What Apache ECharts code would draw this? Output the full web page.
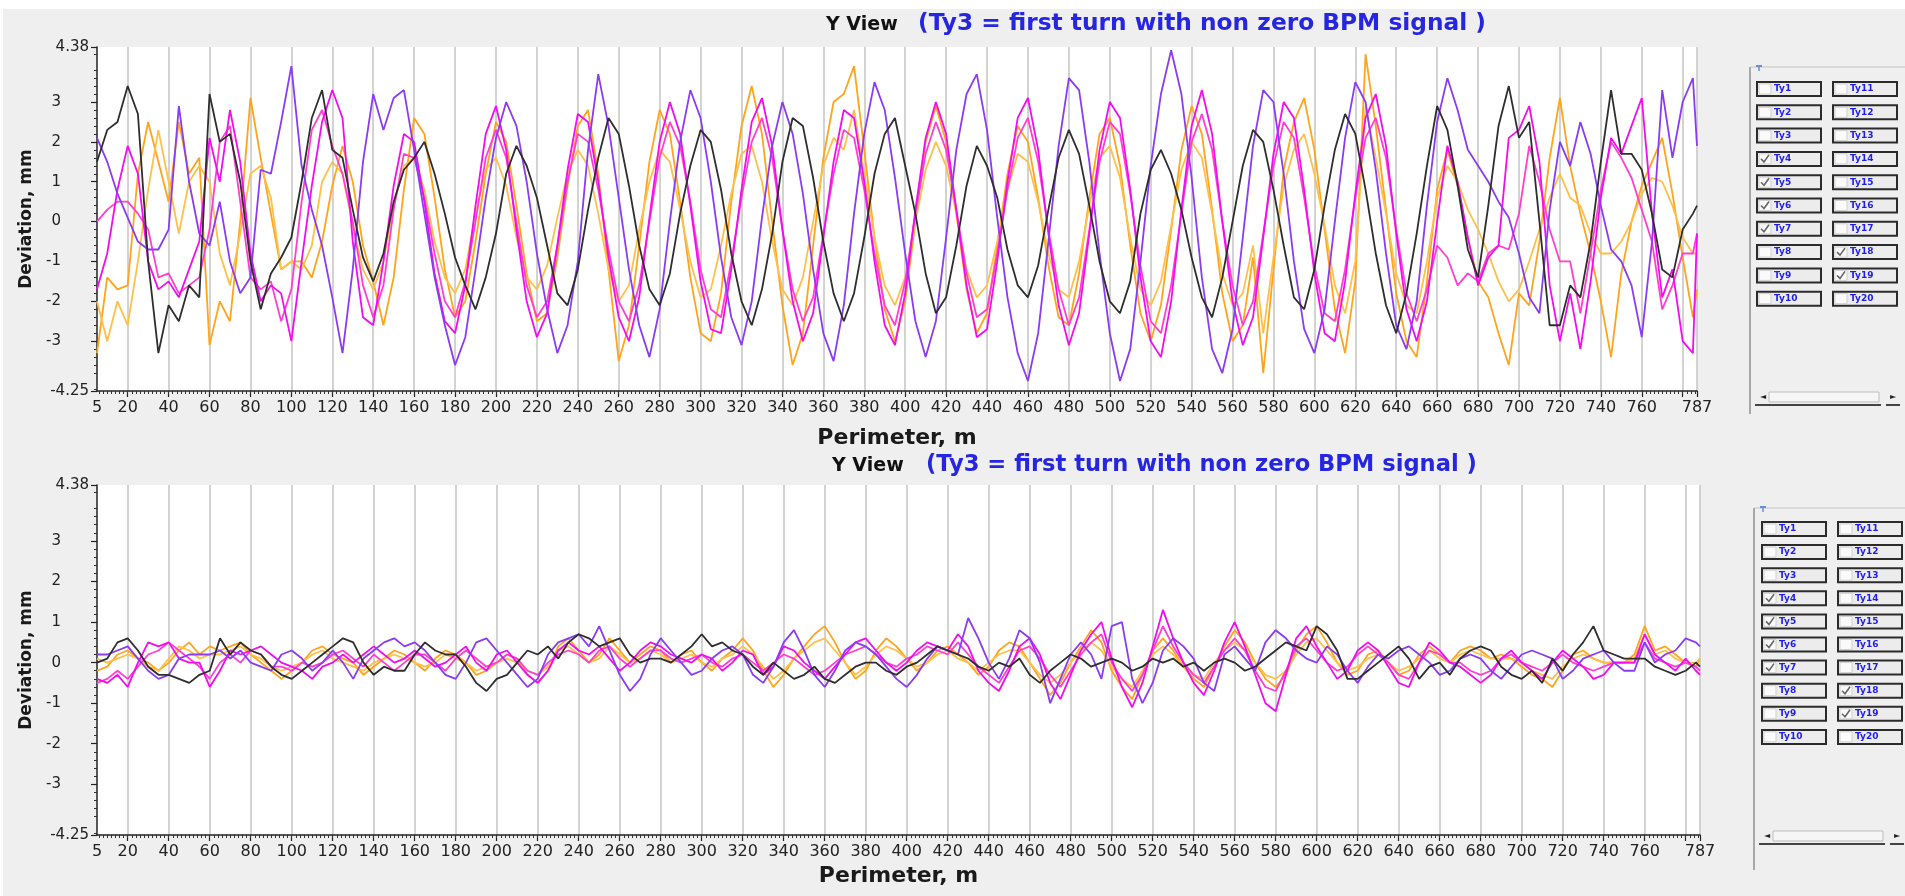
<!DOCTYPE html>
<html><head><meta charset="utf-8">
<script src="https://cdn.jsdelivr.net/npm/echarts@6/dist/echarts.min.js"></script>
<style>html,body{margin:0;padding:0;background:#efefef;overflow:hidden}#c{width:1905px;height:896px}</style>
</head><body><div id="c"></div><script>
// BPM positions along the ring, m
const positions = [
5,10,15,20,25,30,35,40,45,50,55,60,65,70,75,80,85,90,95,100,
105,110,115,120,125,130,135,140,145,150,155,160,165,170,175,180,185,190,195,200,
205,210,215,220,225,230,235,240,245,250,255,260,265,270,275,280,285,290,295,300,
305,310,315,320,325,330,335,340,345,350,355,360,365,370,375,380,385,390,395,400,
405,410,415,420,425,430,435,440,445,450,455,460,465,470,475,480,485,490,495,500,
505,510,515,520,525,530,535,540,545,550,555,560,565,570,575,580,585,590,595,600,
605,610,615,620,625,630,635,640,645,650,655,660,665,670,675,680,685,690,695,700,
705,710,715,720,725,730,735,740,745,750,755,760,765,770,775,780,785,787];

// ---- upper panel (mm)
const topTy4 = [
1.5,2.3,2.5,3.4,2.7,-1.0,-3.3,-2.1,-2.5,-1.6,-1.9,3.2,2.0,2.2,1.0,-1.0,-2.2,-1.3,-0.9,-0.4,
1.0,2.6,3.3,1.8,1.6,0.3,-0.9,-1.5,-0.8,0.5,1.3,1.6,2.0,1.2,0.2,-0.9,-1.6,-2.2,-1.4,-0.3,
1.2,1.9,1.4,0.6,-0.6,-1.8,-2.1,-1.2,0.3,1.6,2.6,2.2,0.9,-0.6,-1.7,-2.1,-1.3,0.2,1.4,2.3,
2.0,0.8,-0.8,-2.0,-2.6,-1.7,-0.3,1.5,2.6,2.4,1.1,-0.5,-1.8,-2.5,-1.8,-0.4,1.2,2.2,2.6,1.4,
0.2,-1.3,-2.3,-1.9,-0.6,0.9,1.9,1.4,0.6,-0.7,-1.6,-1.9,-1.1,0.3,1.6,2.3,1.7,0.4,-1.0,-2.0,
-2.3,-1.5,0.2,1.3,1.8,1.2,0.3,-0.9,-1.9,-2.4,-1.4,0.0,1.4,2.3,2.0,0.8,-0.6,-1.9,-2.2,-1.2,
0.4,1.8,2.7,2.2,0.8,-0.8,-2.1,-2.8,-1.8,-0.3,1.4,2.9,2.3,0.9,-0.7,-1.4,0.4,2.4,3.4,2.1,
2.5,0.0,-2.6,-2.6,-1.6,-1.9,-0.5,1.5,3.3,1.7,1.7,1.3,0.2,-1.2,-1.4,-0.2,0.2,0.4];
const topTy5 = [
2.1,1.5,0.7,0.1,-0.5,-0.7,-0.7,-0.2,2.9,1.0,-0.3,-0.6,0.5,-1.0,-1.8,-1.4,1.3,1.2,2.5,3.9,
1.4,0.3,-0.6,-1.9,-3.3,-1.2,1.5,3.2,2.3,3.1,3.3,1.8,0.2,-1.4,-2.6,-3.6,-2.9,-1.2,0.6,2.1,
3.0,2.4,1.0,-0.8,-2.2,-3.3,-2.6,-1.0,1.8,3.7,2.4,0.6,-1.2,-2.6,-3.4,-2.2,0.0,2.0,3.3,2.6,
1.0,-0.9,-2.4,-3.1,-2.0,0.1,1.9,3.0,2.2,0.7,-1.2,-2.8,-3.5,-2.1,0.2,2.2,3.5,2.8,1.1,-0.8,
-2.5,-3.4,-2.5,-0.4,1.8,3.2,3.7,2.3,0.1,-1.9,-3.3,-4.0,-2.8,-0.5,1.9,3.6,3.3,1.5,-0.8,-2.8,
-4.0,-3.2,-1.0,1.4,3.2,4.3,3.2,1.1,-1.4,-3.2,-3.8,-2.7,-0.4,1.9,3.3,3.0,1.2,-1.0,-2.7,-3.3,
-2.2,0.0,2.1,3.5,3.0,1.3,-0.8,-2.6,-3.2,-2.0,0.4,2.5,3.6,2.8,1.8,1.4,1.0,0.5,0.1,-0.8,
-1.9,-2.3,0.3,2.0,1.4,2.5,1.7,0.4,-0.7,-1.0,-1.6,-2.9,-0.5,3.3,1.6,3.0,3.6,1.9];
const topTy6 = [
-1.7,-0.8,0.8,1.9,1.2,-1.0,-1.7,-1.5,-1.9,-1.2,-0.5,2.1,1.0,2.8,1.5,-0.8,-2.0,-1.6,-1.8,-3.0,
-1.0,0.9,2.5,3.3,2.6,-0.5,-2.4,-2.6,-1.0,0.9,2.2,2.0,0.5,-1.3,-2.5,-2.8,-1.6,0.4,2.2,2.9,
1.8,-0.2,-2.0,-2.9,-2.3,-0.6,1.3,2.7,2.5,1.0,-0.9,-2.4,-3.0,-1.9,0.1,2.0,3.0,2.2,0.4,-1.5,
-2.7,-2.8,-1.2,0.8,2.5,3.1,1.9,-0.2,-2.0,-3.0,-2.3,-0.4,1.5,2.8,2.6,1.0,-1.0,-2.6,-3.1,-1.8,
0.3,2.1,3.0,2.2,0.3,-1.6,-2.9,-2.7,-1.0,1.0,2.6,3.1,1.8,-0.3,-2.1,-3.1,-2.3,-0.3,1.8,3.0,
2.6,0.8,-1.4,-3.0,-3.4,-2.0,0.3,2.4,3.3,2.2,0.0,-2.0,-3.1,-2.4,-0.4,1.7,3.0,2.6,0.8,-1.3,
-2.8,-3.0,-1.5,0.7,2.6,3.2,1.9,-0.3,-2.2,-3.0,-2.0,0.0,1.9,1.0,-0.4,-1.6,-0.9,-0.6,2.1,2.3,
2.9,1.5,-1.6,-3.0,-1.8,-3.2,-1.5,0.6,2.1,1.7,2.4,3.1,0.2,-1.9,-1.2,-3.0,-3.3,-0.3];
const topTy7 = [
0.0,0.3,0.5,0.5,0.2,-0.2,-1.4,-1.3,-1.8,-1.6,-1.4,-0.2,2.0,2.4,0.5,-1.4,-1.7,-1.5,-2.5,-1.7,
0.5,2.3,2.8,1.9,1.2,0.0,-1.6,-2.4,-1.6,0.3,1.7,1.6,0.6,-0.8,-2.0,-2.4,-1.5,0.0,1.6,2.3,
1.6,0.0,-1.6,-2.4,-2.0,-0.6,1.0,2.2,2.0,0.8,-0.7,-2.0,-2.5,-1.6,0.0,1.6,2.5,1.9,0.5,-1.2,
-2.2,-2.4,-1.0,0.6,2.0,2.6,1.6,-0.2,-1.7,-2.5,-1.9,-0.3,1.2,2.3,2.1,0.8,-0.8,-2.1,-2.6,-1.5,
0.2,1.7,2.5,1.8,0.3,-1.3,-2.4,-2.2,-0.8,0.8,2.1,2.6,1.5,-0.2,-1.7,-2.6,-1.9,-0.2,1.5,2.5,
2.2,0.7,-1.1,-2.5,-2.8,-1.6,0.2,2.0,2.7,1.8,0.0,-1.6,-2.6,-2.0,-0.3,1.4,2.5,2.1,0.6,-1.1,
-2.3,-2.5,-1.2,0.6,2.1,2.6,1.6,-0.2,-1.8,-2.5,-1.7,-0.6,-0.9,-1.6,-1.3,-1.5,-0.8,-0.6,-0.7,0.2,
1.9,1.0,-0.2,-1.0,-1.0,-2.3,-0.8,0.8,2.0,1.6,1.1,0.3,-0.5,-2.2,-1.6,-0.8,-0.8,-0.3];
const topTy18 = [
-3.3,-1.4,-1.7,-1.6,1.2,2.5,1.5,0.5,2.5,1.2,1.6,-3.1,-2.0,-2.5,0.0,3.1,1.6,0.2,-1.2,-1.0,
-1.0,-1.4,-0.5,0.9,1.9,1.0,-0.6,-1.5,-2.6,-1.4,0.8,2.6,2.2,0.6,-1.2,-2.4,-2.0,-0.5,1.2,2.5,
2.0,0.4,-1.3,-2.5,-2.3,-0.9,0.9,2.4,2.8,1.2,-1.2,-3.5,-2.6,-0.6,1.5,2.8,2.2,0.5,-1.4,-2.8,
-3.0,-1.8,0.5,2.4,3.4,2.2,0.0,-2.1,-3.6,-2.8,-0.6,1.6,3.0,3.2,3.9,1.8,-0.4,-2.2,-3.0,-2.0,
0.0,2.0,2.9,2.0,0.2,-1.7,-2.8,-2.3,-0.6,1.2,2.4,2.0,0.6,-1.1,-2.4,-2.6,-1.3,0.6,2.2,2.6,
1.4,-0.6,-2.3,-3.0,-2.1,-0.2,1.8,2.9,2.2,0.3,-1.8,-3.0,-2.6,-0.9,-3.8,-1.2,1.3,2.5,3.1,1.8,
-0.2,-2.2,-3.3,-1.5,4.2,2.4,0.3,-1.8,-3.0,-3.4,-1.5,0.8,1.8,0.9,-0.4,-1.5,-1.9,-2.8,-3.6,-1.8,
-2.1,-0.5,1.6,3.1,1.4,0.2,-0.8,-2.0,-3.4,-1.3,0.0,0.9,1.5,2.1,0.7,-0.9,-2.4,-1.7];
const topTy19 = [
-2.0,-3.0,-2.0,-2.6,-1.0,0.8,2.3,1.0,-0.3,1.0,1.4,1.0,-0.8,-1.6,-0.3,1.2,1.4,0.6,-1.2,-1.0,
-1.2,-0.6,1.0,1.5,1.2,-0.1,-1.2,-1.7,-1.0,0.4,1.4,1.6,0.8,-0.5,-1.4,-1.8,-1.2,0.2,1.3,1.6,
0.9,-0.4,-1.4,-1.7,-1.1,0.1,1.2,1.8,1.4,0.2,-1.2,-2.0,-1.6,-0.2,1.0,1.8,1.5,0.3,-1.0,-1.9,
-1.7,-0.6,0.7,1.7,1.9,1.0,-0.5,-1.7,-2.1,-1.4,0.0,1.4,2.1,1.8,2.8,1.2,-0.4,-1.6,-2.1,-1.4,
0.0,1.3,2.0,1.4,0.2,-1.2,-1.9,-1.6,-0.5,0.8,1.7,1.5,0.5,-0.8,-1.7,-1.9,-1.0,0.4,1.6,1.9,
1.1,-0.4,-1.7,-2.1,-1.5,-0.1,1.3,2.0,1.6,0.2,-1.3,-2.1,-1.8,-0.6,-2.8,-0.9,0.9,1.8,2.2,1.2,
-0.1,-1.6,-2.3,-1.0,2.9,1.6,0.2,-1.3,-2.1,-2.3,-1.0,0.6,1.4,1.0,0.3,-0.2,-0.8,-1.5,-2.0,-1.7,
-1.0,-0.2,0.6,1.2,0.6,0.4,-0.3,-0.8,-0.8,-0.5,0.0,0.7,1.1,1.0,0.4,-0.4,-0.8,-0.8];

// ---- lower panel (mm)
const botTy4 = [
0.0,0.1,0.5,0.6,0.3,-0.1,-0.3,-0.3,-0.4,-0.5,-0.3,-0.2,0.6,0.2,0.5,0.3,0.2,-0.1,-0.3,-0.4,
-0.2,0.0,0.2,0.4,0.6,0.5,0.0,-0.3,-0.1,-0.2,-0.2,0.2,0.5,0.3,0.2,0.2,-0.1,-0.5,-0.7,-0.4,
-0.3,0.0,0.3,0.2,0.4,0.1,0.5,0.7,0.6,0.4,0.5,0.6,0.2,0.0,0.1,0.1,0.0,0.2,0.4,0.7,
0.4,0.5,0.3,0.2,-0.1,-0.3,0.0,-0.2,-0.4,-0.3,-0.1,-0.4,-0.5,-0.3,-0.1,0.0,0.0,-0.2,-0.3,-0.1,
0.0,0.2,0.4,0.3,0.2,0.1,-0.1,-0.2,0.0,-0.1,0.1,-0.3,-0.5,-0.2,0.0,0.2,0.1,-0.1,0.0,0.1,
0.0,-0.2,-0.1,0.1,0.0,0.1,-0.1,0.0,-0.2,0.0,0.1,0.0,-0.2,-0.1,0.1,0.3,0.5,0.4,0.3,0.9,
0.7,0.3,-0.4,-0.4,-0.2,0.0,0.2,0.4,0.1,-0.4,-0.1,0.0,-0.3,0.1,0.3,0.4,0.3,-0.1,-0.3,-0.4,
-0.2,-0.5,0.1,-0.2,0.2,0.5,0.9,0.3,0.2,0.1,0.1,0.1,-0.1,-0.2,-0.3,-0.2,0.0,-0.1];
const botTy5 = [
0.2,0.2,0.3,0.4,0.1,-0.2,-0.4,-0.3,0.1,0.2,0.2,0.2,0.3,0.1,0.3,0.0,-0.1,-0.2,0.2,0.3,
0.1,-0.2,0.0,0.3,0.0,-0.4,0.1,0.3,0.5,0.6,0.4,0.5,0.3,0.0,-0.3,-0.4,0.0,0.5,0.6,0.3,
0.0,-0.3,-0.6,-0.4,0.2,0.5,0.6,0.7,0.4,0.9,0.3,-0.3,-0.7,-0.4,0.2,0.6,0.3,0.0,-0.3,-0.2,
0.1,0.3,0.4,0.2,-0.3,-0.5,-0.1,0.5,0.8,0.3,-0.3,-0.6,-0.2,0.3,0.5,0.4,0.2,-0.1,-0.4,-0.6,
-0.3,0.1,0.4,0.3,0.2,1.1,0.6,0.0,-0.4,0.1,0.8,0.6,0.0,-1.0,-0.4,0.2,0.5,0.2,-0.4,0.9,
1.0,-0.4,-1.0,-0.5,0.3,0.6,0.4,0.1,-0.5,-0.7,0.2,0.4,0.1,-0.2,0.5,0.8,0.6,0.3,0.1,0.0,
0.4,0.2,-0.2,-0.5,-0.1,0.2,0.1,0.3,0.4,0.2,0.0,-0.3,-0.2,0.1,0.2,0.1,-0.2,-0.4,-0.1,0.2,
0.3,0.2,0.1,-0.4,-0.2,0.1,0.2,0.3,0.0,-0.2,-0.2,0.5,0.0,0.2,0.3,0.6,0.5,0.4];
const botTy6 = [
-0.4,-0.5,-0.3,-0.6,0.0,0.5,0.4,0.5,0.1,0.0,0.0,-0.6,-0.2,0.3,0.2,0.3,0.4,0.2,0.0,-0.1,
-0.2,-0.4,-0.1,0.0,0.2,0.0,0.2,0.4,0.2,0.0,0.1,0.3,0.1,-0.1,0.0,0.2,0.4,0.0,-0.2,0.2,
0.3,0.0,-0.3,-0.5,-0.2,0.3,0.5,0.3,0.2,0.4,0.1,-0.2,0.0,0.3,0.5,0.4,0.2,0.1,0.0,0.2,
0.1,-0.2,0.0,0.3,0.2,-0.3,-0.1,0.4,0.3,0.0,-0.2,-0.4,-0.1,0.2,0.5,0.6,0.3,0.0,-0.2,0.0,
0.3,0.5,0.4,0.3,0.7,0.4,-0.2,-0.5,-0.7,-0.2,0.4,0.6,0.2,-0.5,-0.9,-0.3,0.3,0.7,1.0,0.1,
-0.6,-1.1,-0.5,0.4,1.3,0.6,0.0,-0.5,-0.8,-0.2,0.5,1.0,0.4,-0.3,-1.0,-1.2,-0.3,0.6,0.9,0.4,
0.0,-0.4,-0.2,0.3,0.5,0.3,-0.1,-0.5,-0.6,0.0,0.5,0.3,0.0,-0.1,-0.3,-0.5,-0.3,0.1,0.3,0.0,
-0.2,-0.4,0.0,0.3,0.1,-0.1,-0.4,-0.3,0.0,0.0,0.0,0.7,0.2,0.0,-0.2,0.1,-0.2,-0.3];
const botTy7 = [
-0.5,-0.4,-0.2,-0.4,-0.1,0.2,0.3,0.5,0.3,0.1,-0.1,-0.4,0.0,0.2,0.0,0.3,0.2,-0.1,-0.1,-0.2,
0.0,-0.1,0.0,0.2,0.3,0.1,-0.1,0.2,0.0,-0.2,0.0,0.2,0.2,0.0,-0.2,0.1,0.3,0.1,-0.1,0.0,
0.2,0.1,-0.2,-0.3,0.0,0.2,0.3,0.2,0.0,0.3,0.4,0.1,-0.1,0.1,0.3,0.3,0.1,0.0,0.1,0.2,
0.0,-0.1,0.1,0.2,0.0,-0.2,0.0,0.2,0.1,-0.1,-0.3,-0.2,0.0,0.2,0.3,0.4,0.2,0.0,-0.1,0.1,
0.2,0.4,0.3,0.2,0.5,0.2,-0.1,-0.3,-0.5,-0.1,0.3,0.4,0.1,-0.3,-0.6,-0.2,0.2,0.5,0.7,0.0,
-0.4,-0.7,-0.3,0.3,0.9,0.4,0.0,-0.3,-0.5,-0.1,0.3,0.6,0.3,-0.2,-0.6,-0.7,-0.2,0.4,0.6,0.3,
0.0,-0.2,-0.1,0.2,0.4,0.2,0.0,-0.3,-0.4,0.0,0.3,0.2,0.0,0.0,-0.2,-0.3,-0.2,0.1,0.2,0.0,
-0.1,-0.2,0.0,0.2,0.0,-0.1,-0.2,-0.1,0.0,0.0,0.0,0.5,0.1,0.0,-0.1,0.0,-0.1,-0.2];
const botTy18 = [
-0.2,-0.1,0.2,0.3,0.1,0.0,-0.2,0.0,0.3,0.5,0.2,0.4,0.3,0.4,0.5,0.2,0.0,-0.2,-0.4,-0.2,
0.0,0.3,0.4,0.2,0.1,0.0,-0.3,-0.1,0.1,0.3,0.2,0.0,-0.2,0.1,0.3,0.2,0.0,-0.3,-0.2,0.0,
0.2,0.1,-0.3,-0.5,-0.2,0.4,0.6,0.3,0.0,0.2,0.6,0.3,0.0,0.2,0.4,0.3,0.0,0.2,0.3,0.0,
-0.2,0.1,0.3,0.6,0.3,-0.2,-0.6,-0.3,0.1,0.4,0.7,0.9,0.5,0.0,-0.4,-0.2,0.3,0.6,0.4,0.1,
-0.2,0.0,0.3,0.4,0.2,0.0,-0.3,-0.1,0.3,0.5,0.4,0.0,-0.4,-0.8,-0.5,0.0,0.4,0.8,0.5,-0.2,
-0.6,-0.9,-0.3,0.3,0.6,0.3,-0.1,-0.4,-0.6,-0.1,0.4,0.8,0.5,0.0,-0.4,-0.6,-0.3,0.3,0.7,0.9,
0.5,0.0,-0.3,-0.2,0.2,0.3,0.0,-0.3,-0.2,0.2,0.4,0.2,0.0,0.3,0.4,0.3,0.1,0.2,0.1,-0.1,
-0.3,-0.4,-0.6,-0.2,0.2,0.3,0.1,0.0,0.0,0.0,0.2,0.9,0.3,0.4,0.2,0.0,-0.1,0.1];
const botTy19 = [
0.1,0.0,0.1,0.2,0.1,-0.1,-0.2,0.1,0.4,0.3,0.1,0.2,0.2,0.3,0.4,0.2,0.1,-0.1,-0.2,-0.1,
0.0,0.2,0.3,0.1,0.0,-0.1,-0.2,0.0,0.1,0.2,0.1,0.0,-0.1,0.0,0.2,0.1,0.0,-0.2,-0.1,0.0,
0.1,0.0,-0.2,-0.3,-0.1,0.3,0.4,0.2,0.0,0.1,0.4,0.2,0.0,0.1,0.3,0.2,0.0,0.1,0.2,0.0,
-0.1,0.1,0.2,0.4,0.2,-0.1,-0.4,-0.2,0.1,0.3,0.5,0.6,0.3,0.0,-0.3,-0.1,0.2,0.4,0.3,0.1,
-0.1,0.0,0.2,0.3,0.1,0.0,-0.2,0.0,0.2,0.3,0.3,0.0,-0.3,-0.5,-0.3,0.0,0.3,0.5,0.3,-0.1,
-0.4,-0.6,-0.2,0.2,0.4,0.2,-0.1,-0.3,-0.4,0.0,0.3,0.5,0.3,0.0,-0.3,-0.4,-0.2,0.2,0.5,0.6,
0.3,0.0,-0.2,-0.1,0.1,0.2,0.0,-0.2,-0.1,0.1,0.3,0.1,0.0,0.2,0.3,0.2,0.1,0.1,0.1,0.0,
-0.2,-0.3,-0.4,-0.1,0.1,0.2,0.1,0.0,0.0,0.0,0.1,0.7,0.2,0.3,0.1,0.0,0.0,0.1];

// ---- axis texts
const xLabelValues = [5,20,40,60,80,100,120,140,160,180,200,220,240,260,280,300,320,340,360,380,400,420,440,460,480,500,520,540,560,580,600,620,640,660,680,700,720,740,760,787];
const xGridValues = [20,40,60,80,100,120,140,160,180,200,220,240,260,280,300,320,340,360,380,400,420,440,460,480,500,520,540,560,580,600,620,640,660,680,700,720,740,760,780,787];
const yInnerLabels = [-3,-2,-1,0,1,2,3];
const yEndLabels = [-4.25,4.38];
const titleMain = 'Y View';
const titleNote = '(Ty3 = first turn with non zero BPM signal )';
const xName = 'Perimeter, m';
const yName = 'Deviation, mm';
const panelNames = ['Ty1','Ty2','Ty3','Ty4','Ty5','Ty6','Ty7','Ty8','Ty9','Ty10','Ty11','Ty12','Ty13','Ty14','Ty15','Ty16','Ty17','Ty18','Ty19','Ty20'];
const checkedNames = ['Ty4','Ty5','Ty6','Ty7','Ty18','Ty19'];

const seriesNames = ['Ty18','Ty19','Ty7','Ty6','Ty5','Ty4'];
const seriesColors = ['#ffa41c','#ffc04a','#ff3fd0','#f20cf0','#8a3cf2','#2e2e2e'];
const topData = [topTy18, topTy19, topTy7, topTy6, topTy5, topTy4];
const botData = [botTy18, botTy19, botTy7, botTy6, botTy5, botTy4];

const minorX = []; for (let v = 6; v <= 786; v += 2) minorX.push(v);
const minorY = []; for (let v = -42; v <= 42; v += 2) { if (v % 10 !== 0) minorY.push(v / 10); }

const FONT = 'DejaVu Sans';
const grids = [
  {left:97, top:47, width:1600, height:344},
  {left:97, top:485, width:1603, height:350}
];

function xAxes(g, nameGap) {
  return [{
    type:'value', gridIndex:g, min:5, max:787, position:'bottom',
    axisLine:{show:true, onZero:false, lineStyle:{color:'#222', width:1.5}},
    axisTick:{show:true, length:6, customValues:xGridValues, lineStyle:{color:'#222', width:1.2}},
    axisLabel:{customValues:xLabelValues, color:'#222', fontSize:16, fontFamily:FONT, margin:9, formatter:v=>String(v)},
    splitLine:{show:true, lineStyle:{color:'#c4c4c4', width:1.5}},
    name:xName, nameLocation:'middle', nameGap:nameGap,
    nameTextStyle:{fontFamily:FONT, fontWeight:'bold', fontSize:22, color:'#1a1a1a'}
  },{
    type:'value', gridIndex:g, min:5, max:787, position:'bottom',
    axisLine:{show:false, onZero:false}, axisTick:{show:true, length:3, customValues:minorX, lineStyle:{color:'#333', width:1}},
    axisLabel:{show:false}, splitLine:{show:false}
  }];
}
function yAxes(g) {
  return [{
    type:'value', gridIndex:g, min:-4.25, max:4.38, position:'left',
    axisLine:{show:true, onZero:false, lineStyle:{color:'#222', width:1.5}},
    axisTick:{show:true, length:6, customValues:yInnerLabels.concat(yEndLabels), lineStyle:{color:'#222', width:1.2}},
    axisLabel:{customValues:yInnerLabels, color:'#222', fontSize:15, fontFamily:FONT, margin:36, formatter:v=>String(v)},
    splitLine:{show:false},
    name:yName, nameLocation:'middle', nameGap:51, nameRotate:90,
    nameTextStyle:{fontFamily:FONT, fontWeight:'bold', fontSize:17, color:'#1a1a1a'}
  },{
    type:'value', gridIndex:g, min:-4.25, max:4.38, position:'left',
    axisLine:{show:false, onZero:false}, axisTick:{show:true, length:3, customValues:minorY, lineStyle:{color:'#333', width:1}},
    axisLabel:{customValues:yEndLabels, color:'#222', fontSize:15, fontFamily:FONT, margin:8, formatter:v=>String(v)},
    splitLine:{show:false}
  }];
}

const series = [];
[topData, botData].forEach((set, g) => {
  set.forEach((vals, k) => {
    series.push({
      type:'line', name:seriesNames[k], xAxisIndex:g*2, yAxisIndex:g*2,
      data: positions.map((p, i) => [p, vals[i]]),
      showSymbol:false, symbol:'none', animation:false, silent:true,
      lineStyle:{color:seriesColors[k], width:1.8}
    });
  });
});

// graphics: window frame, titles and the trace selector panels
const gfx = [
  {type:'rect', shape:{x:0,y:0,width:1905,height:9}, style:{fill:'#ffffff'}, z:-10},
  {type:'rect', shape:{x:0,y:0,width:3,height:896}, style:{fill:'#ffffff'}, z:-10}
];
function addTitle(cy, xMain, xNote, noteSize) {
  gfx.push({type:'text', x:xMain, y:cy+1, style:{text:titleMain, font:'bold 19px ' + FONT, fill:'#111', verticalAlign:'middle'}});
  gfx.push({type:'text', x:xNote, y:cy, style:{text:titleNote, font:'bold ' + noteSize + 'px ' + FONT, fill:'#2626e0', verticalAlign:'middle'}});
}
addTitle(24, 826, 918, 23.3);
addTitle(465, 832, 926, 22.6);

function addPanel(x0, y0, yEnd, c1, c2, w, row0, pitch, scrollY) {
  gfx.push({type:'line', shape:{x1:x0,y1:y0,x2:x0,y2:yEnd}, style:{stroke:'#a8a8a8', lineWidth:2}});
  gfx.push({type:'line', shape:{x1:x0,y1:y0,x2:1905,y2:y0}, style:{stroke:'#c4c4c4', lineWidth:1}});
  gfx.push({type:'line', shape:{x1:x0+6,y1:y0-1,x2:x0+12,y2:y0-1}, style:{stroke:'#6a8fd8', lineWidth:2}});
  gfx.push({type:'line', shape:{x1:x0+9,y1:y0-1,x2:x0+9,y2:y0+4}, style:{stroke:'#6a8fd8', lineWidth:1.5}});
  panelNames.forEach((nm, i) => {
    const cx = i < 10 ? c1 : c2;
    const cy = row0 + (i % 10) * pitch;
    gfx.push({type:'rect', shape:{x:cx, y:cy, width:w, height:14}, style:{fill:'#ececec', stroke:'#2b2b2b', lineWidth:2}});
    gfx.push({type:'rect', shape:{x:cx+2, y:cy+2, width:12, height:10}, style:{fill:'#fafafa', stroke:'#d0d0d0', lineWidth:1}});
    if (checkedNames.indexOf(nm) >= 0) {
      gfx.push({type:'polyline', shape:{points:[[cx+4,cy+7],[cx+7,cy+10],[cx+12,cy+3]]}, style:{stroke:'#666', lineWidth:1.6, fill:null}});
    }
    gfx.push({type:'text', x:cx+17, y:cy+7, style:{text:nm, font:'bold 9px ' + FONT, fill:'#1d1df0', verticalAlign:'middle'}});
  });
  gfx.push({type:'text', x:x0+10, y:scrollY, style:{text:'\u25C4', font:'8px ' + FONT, fill:'#222', verticalAlign:'middle'}});
  gfx.push({type:'rect', shape:{x:x0+19, y:scrollY-5, width:110, height:10}, style:{fill:'#f6f6f6', stroke:'#bdbdbd', lineWidth:1}});
  gfx.push({type:'text', x:x0+140, y:scrollY, style:{text:'\u25BA', font:'8px ' + FONT, fill:'#222', verticalAlign:'middle'}});
  gfx.push({type:'line', shape:{x1:x0+5,y1:scrollY+8,x2:x0+131,y2:scrollY+8}, style:{stroke:'#444', lineWidth:2}});
  gfx.push({type:'line', shape:{x1:x0+136,y1:scrollY+8,x2:x0+150,y2:scrollY+8}, style:{stroke:'#444', lineWidth:2}});
}
addPanel(1750, 67, 414, 1757, 1833, 64, 82, 23.3, 397);
addPanel(1754, 508, 870, 1762, 1838, 64, 522, 23.1, 836);

const chart = echarts.init(document.getElementById('c'), null, {renderer:'canvas'});
chart.setOption({
  backgroundColor:'#efefef',
  animation:false,
  grid: grids.map(g => Object.assign({show:true, backgroundColor:'#ffffff', borderWidth:0, containLabel:false, outerBoundsMode:'none'}, g)),
  xAxis: xAxes(0, 36).concat(xAxes(1, 30)),
  yAxis: yAxes(0).concat(yAxes(1)),
  series: series,
  graphic: gfx
});
</script></body></html>
